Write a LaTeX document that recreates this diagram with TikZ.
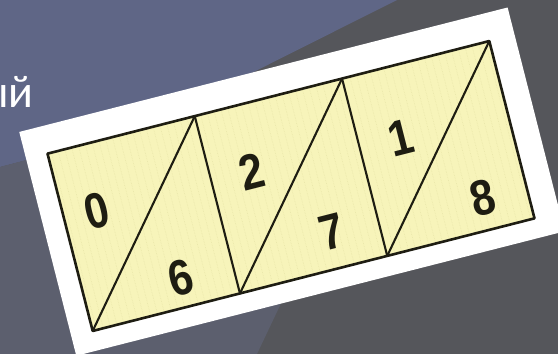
\documentclass[tikz,border=0pt]{standalone}
\usepackage{fontspec}
\setmainfont{Liberation Sans}
\newfontfamily\slidefont{Carlito}
\usetikzlibrary{positioning}
\definecolor{slateblue}{HTML}{5F6686}
\definecolor{slatemid}{HTML}{5C5F6E}
\definecolor{slatedark}{HTML}{55565B}
\definecolor{cardyellow}{HTML}{F7F4BA}
\definecolor{cardgrid}{HTML}{E9E6A9}
\definecolor{inkline}{HTML}{1E1D12}
\tikzset{
  gridline/.style={draw=inkline, line width=2.1pt, line cap=round, line join=round},
  framebox/.style={draw=inkline, line width=2.6pt, line join=round},
  digit/.style={font=\bfseries\fontsize{50}{50}\selectfont, text=inkline, inner sep=0pt, xscale=0.86},
}

\begin{document}
\begin{tikzpicture}[x=1pt,y=-1pt]
  \useasboundingbox (0,0) rectangle (558,354);
  \clip (0,0) rectangle (558,354);
  % slide background
  \fill[slatedark] (0,0) rectangle (558,354);
  \fill[slateblue] (0,0) -- (397,0) -- (136,131) -- (0,167) -- cycle;
  \fill[slatemid] (0,167) -- (136,131) -- (330,200) -- (257,354) -- (0,354) -- cycle;
  % end of the title word
  \node[anchor=base east, inner sep=0pt, text=white, font=\slidefont\fontsize{46}{46}\selectfont] (word) at (34,107) {ый};
  % tilted picture of the three cells
  \begin{scope}[shift={(291,186)}, rotate=14.3, transform shape]
    \fill[white] (-250,-119.5) rectangle (254,111.5);
    \fill[cardyellow] (-228,-91.5) rectangle (228,91.5);
    \draw[cardgrid, densely dotted, line width=0.6pt, step=7] (-228,-91.5) grid (228,91.5);
    \foreach \i/\x in {0/-228,1/-76,2/76,3/228} {
      \coordinate (t\i) at (\x,-91.5);
      \coordinate (b\i) at (\x,91.5);
    }
    % frame and dividers
    \draw[framebox] (t0) -- (t3) -- (b3) -- (b0) -- cycle;
    \foreach \i in {1,2}
      \draw[gridline] (t\i) -- (b\i);
    % diagonals
    \foreach \i/\j in {0/1,1/2,2/3}
      \draw[gridline] (b\i) -- (t\j);
    % digits
    \node[digit] (d0) at (-194.6,-24.2) {0};
    \node[digit] (d6) at (-129.9,62.1) {6};
    \node[digit] (d2) at (-34.8,-23.9) {2};
    \node[digit] (d7) at (27.9,54.5) {7};
    \node[digit] (d1) at (118.4,-19.7) {1};
    \node[digit] (d8) at (182.7,59.1) {8};
  \end{scope}
\end{tikzpicture}
\end{document}
